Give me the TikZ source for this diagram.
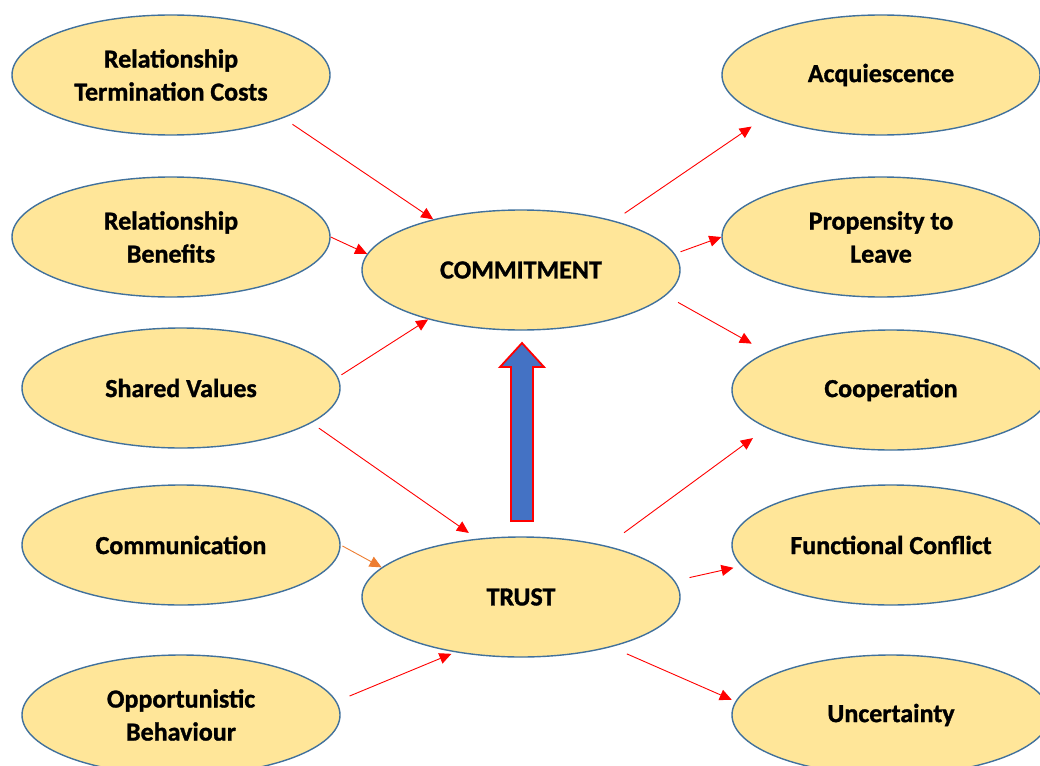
\documentclass[tikz,border=0pt]{standalone}
\usepackage{fontspec}
\setmainfont{Carlito}[BoldFeatures={FakeBold=1.2}]
\usetikzlibrary{arrows.meta,shapes.geometric}
\definecolor{oval}{HTML}{FFE699}
\definecolor{ovalline}{HTML}{41719C}
\definecolor{liftblue}{HTML}{4472C4}
\definecolor{commorange}{HTML}{ED7D31}
\tikzset{
    concept/.style={ellipse, draw=ovalline, line width=1.4pt, fill=oval,
        minimum width=318pt, minimum height=120pt, inner sep=0pt,
        align=center, font=\fontsize{26}{33}\selectfont\bfseries},
    link/.style={draw=red, line width=0.9pt, -{Triangle[length=12pt,width=11pt]}},
    lift/.style={fill=liftblue, draw=red, line width=1.8pt, line join=miter},
}

\begin{document}
\begin{tikzpicture}[x=1pt, y=-1pt]
    \useasboundingbox (0,0) rectangle (1040,765);
    \clip (0,0) rectangle (1040,765);
    % drivers
    \node[concept] (rtc)  at (171,75)  {Relationship\\Termination Costs};
    \node[concept] (rb)   at (171,237) {Relationship\\Benefits};
    \node[concept] (sv)   at (181,388) {Shared Values};
    \node[concept] (comm) at (181,545) {Communication};
    \node[concept] (ob)   at (181,715) {Opportunistic\\Behaviour};
    % mediators
    \node[concept] (commit) at (521,270) {COMMITMENT};
    \node[concept] (trust)  at (521,597) {TRUST};
    % outcomes
    \node[concept] (acq)  at (881,75)  {Acquiescence};
    \node[concept] (ptl)  at (881,237) {Propensity to\\Leave};
    \node[concept] (coop) at (891,390) {Cooperation};
    \node[concept] (fc)   at (891,545) {Functional Conflict};
    \node[concept] (unc)  at (891,715) {Uncertainty};
    % trust -> commitment
    \draw[lift] (511,521) -- (511,367) -- (500,367) -- (522,343)
        -- (544,367) -- (533,367) -- (533,521) -- cycle;
    % links in
    \draw[link, shorten <=11pt] (rtc.-21) -- (commit.150);
    \draw[link] (rb.0) -- (commit.174);
    \draw[link, shorten <=4pt] (sv.4) -- (commit.-152);
    \draw[link, shorten <=9pt, shorten >=10pt] (sv.-15) -- (trust.127);
    \draw[link, draw=commorange, shorten <=2pt] (comm.0) -- (trust.168);
    \draw[link, shorten <=14pt, shorten >=4pt] (ob.5) -- (trust.-140);
    % links out
    \draw[link, shorten <=13pt, shorten >=17pt] (commit.28) -- (acq.-160);
    \draw[link, shorten <=6pt] (commit.6) -- (ptl.180);
    \draw[link, shorten <=14pt, shorten >=17pt] (commit.-10) -- (coop.163);
    \draw[link, shorten <=22pt, shorten >=17pt] (trust.31) -- (coop.-163);
    \draw[link, shorten <=15pt, shorten >=8pt] (trust.6) -- (fc.-172);
    \draw[link, shorten <=17pt, shorten >=4pt] (trust.-29) -- (unc.175);
\end{tikzpicture}
\end{document}
